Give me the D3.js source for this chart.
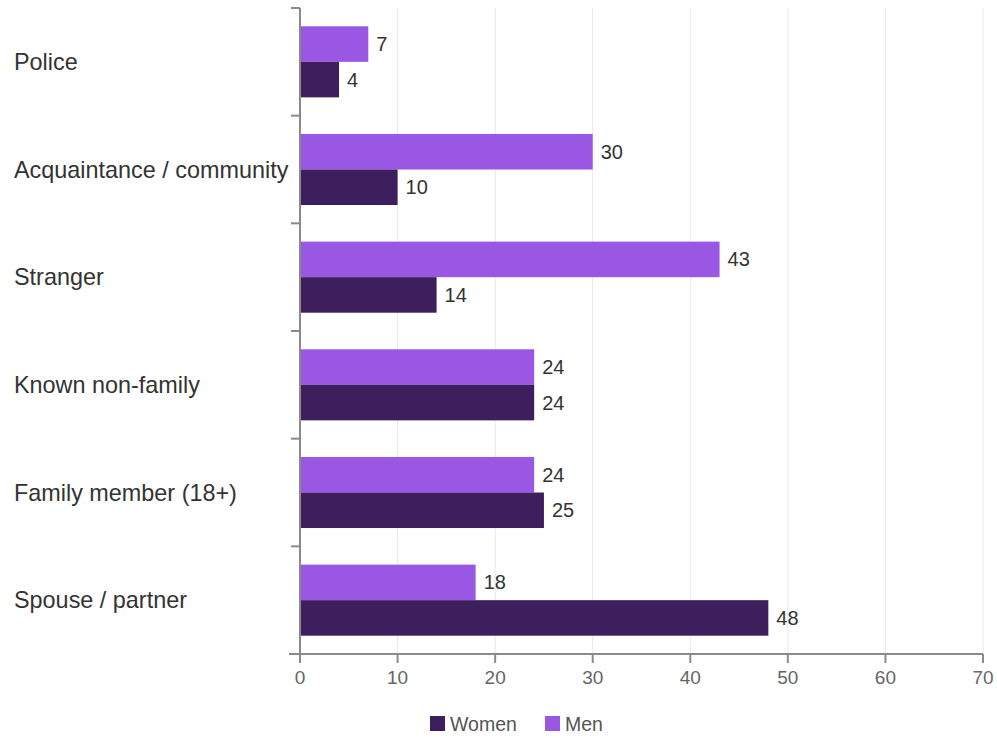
<!DOCTYPE html>
<html><head><meta charset="utf-8">
<script src="https://cdn.jsdelivr.net/npm/d3@7"></script>
<style>
body{margin:0;background:#fff;}
svg{display:block;font-family:"Liberation Sans",Arial,sans-serif;}
</style></head>
<body><svg id="c" width="997" height="738"></svg>
<script>
const categories = ["Police","Acquaintance / community","Stranger","Known non-family","Family member (18+)","Spouse / partner"];
const men = [7,30,43,24,24,18];
const women = [4,10,14,24,25,48];
const xTicks = [0,10,20,30,40,50,60,70];
const seriesNames = ["Women","Men"];
const colors = {Women:"#3d1f5e", Men:"#9a57e3"};

(function(){
const svg = d3.select("#c");
const pL = 300, pR = 983, pT = 8, pB = 654;
const x = d3.scaleLinear().domain([0,70]).range([pL,pR]);
const y = d3.scaleBand().domain(categories).range([pT,pB]).paddingInner(0.34).paddingOuter(0.17);
const sub = d3.scaleBand().domain(["Men","Women"]).range([0,y.bandwidth()]);

svg.append("g").selectAll("line").data(xTicks.filter(d=>d>0)).join("line")
  .attr("x1",d=>x(d)).attr("x2",d=>x(d)).attr("y1",pT).attr("y2",pB)
  .attr("stroke","#e8e8e8").attr("stroke-width",1);

const rows = categories.map((c,i)=>({c, Men:men[i], Women:women[i]}));
const g = svg.append("g");
rows.forEach(r=>{
  ["Men","Women"].forEach(s=>{
    const yy = y(r.c)+sub(s);
    g.append("rect").attr("x",x(0)).attr("y",yy).attr("width",x(r[s])-x(0)).attr("height",sub.bandwidth())
      .attr("fill",colors[s]);
    g.append("text").attr("x",x(r[s])+8).attr("y",yy+sub.bandwidth()/2).attr("dy","0.35em")
      .attr("font-size",20).attr("fill","#333").text(r[s]);
  });
});

const yAxis = svg.append("g");
yAxis.append("line").attr("x1",pL).attr("x2",pL).attr("y1",pT).attr("y2",pB).attr("stroke","#8a8a8a").attr("stroke-width",2);
const bounds = categories.map(c=>y(c)-y.step()*y.paddingInner()/2);
bounds.forEach(b=>{
  const bb = Math.max(b,pT);
  yAxis.append("line").attr("x1",pL-9).attr("x2",pL).attr("y1",bb).attr("y2",bb).attr("stroke","#8a8a8a").attr("stroke-width",2);
});
yAxis.selectAll("text").data(categories).join("text")
  .attr("x",14).attr("y",d=>y(d)+y.bandwidth()/2).attr("dy","0.35em")
  .attr("font-size",23.4).attr("fill","#333").text(d=>d);

const xAxis = svg.append("g");
xAxis.append("line").attr("x1",289).attr("x2",pR).attr("y1",pB).attr("y2",pB).attr("stroke","#8a8a8a").attr("stroke-width",2);
xTicks.forEach(t=>{
  xAxis.append("line").attr("x1",x(t)).attr("x2",x(t)).attr("y1",pB).attr("y2",pB+9).attr("stroke","#8a8a8a").attr("stroke-width",2);
  xAxis.append("text").attr("x",x(t)).attr("y",677).attr("dy","0.35em").attr("text-anchor","middle")
    .attr("font-size",19).attr("fill","#666").text(t);
});

const leg = svg.append("g");
const legX = {Women:430, Men:545};
seriesNames.forEach(s=>{
  leg.append("rect").attr("x",legX[s]).attr("y",716).attr("width",15).attr("height",15).attr("fill",colors[s]);
  leg.append("text").attr("x",legX[s]+20).attr("y",724).attr("dy","0.35em").attr("font-size",19.5).attr("fill","#555").text(s);
});
})();
</script></body></html>
